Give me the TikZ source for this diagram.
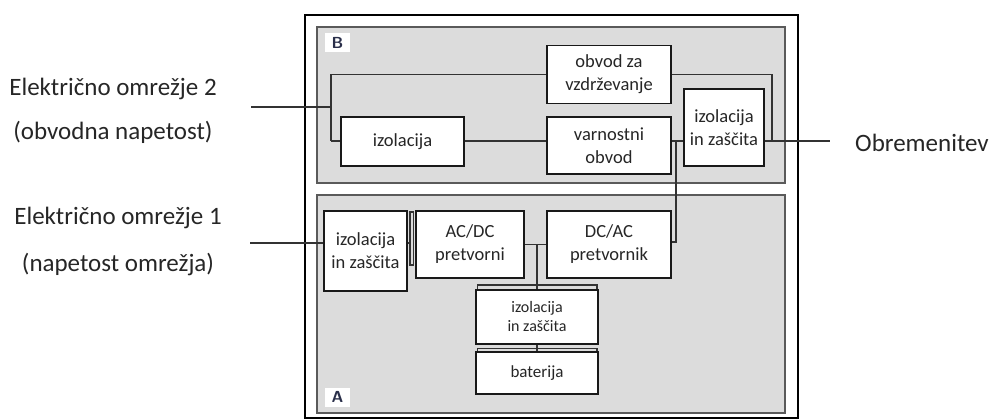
\documentclass[tikz,border=0pt]{standalone}
\usepackage{fontspec}
\setmainfont{Carlito}
\usetikzlibrary{calc}
\definecolor{panelfill}{HTML}{DCDCDC}
\definecolor{panelline}{HTML}{5A5A5A}
\definecolor{wire}{HTML}{333333}
\definecolor{lettercol}{HTML}{2A2F4A}
\tikzset{
  panel/.style={fill=panelfill, draw=panelline, line width=2pt},
  blk/.style={draw=black!90, fill=white, line width=1.8pt, align=center, inner sep=0pt,
              font=\fontsize{18.5}{23}\selectfont, text=black!85},
  smallblk/.style={blk, font=\fontsize{16}{19}\selectfont},
  wirel/.style={draw=wire, line width=1.9pt},
  lbl/.style={font=\fontsize{25}{28}\selectfont, inner sep=0pt, text=black!85},
  tag/.style={fill=white, minimum width=25pt, minimum height=19pt, inner sep=0pt,
              font=\sffamily\bfseries\fontsize{16}{16}\selectfont, text=lettercol}
}
\begin{document}
\begin{tikzpicture}[x=1pt,y=-1pt]
\useasboundingbox (0,0) rectangle (992,419);
% outer frame
\draw[line width=2.5pt, black] (305,15) rectangle (798,418);
% panels
\draw[panel] (317,27) rectangle (785,183);
\draw[panel] (317,195) rectangle (785,413);
\node[tag] (tagB) at (337.5,42.5) {B};
\node[tag] (tagA) at (337.5,397) {A};

% panel B blocks
\node[blk, minimum width=124pt, minimum height=58pt] (ovz) at (609,74.5) {obvod za\\vzdrževanje};
\node[blk, minimum width=123pt, minimum height=49pt] (izB) at (402.5,141.5) {izolacija};
\node[blk, minimum width=124pt, minimum height=57pt] (varn) at (609,145.5) {varnostni\\obvod};
\node[blk, minimum width=80pt, minimum height=77pt] (izzB) at (724,127.5) {izolacija\\in zaščita};

% panel A blocks
\node[blk, minimum width=83pt, minimum height=80pt] (izzA) at (365.5,251) {izolacija\\in zaščita};
\node[blk, minimum width=108pt, minimum height=67pt] (acdc) at (470,244.5) {AC/DC\\pretvorni};
\node[blk, minimum width=124pt, minimum height=67pt] (dcac) at (609,244.5) {DC/AC\\pretvornik};
\node[smallblk, minimum width=122pt, minimum height=54pt] (izzL) at (537,317) {izolacija\\in zaščita};
\node[blk, font=\fontsize{17}{20}\selectfont, minimum width=122pt, minimum height=42pt] (bat) at (537,373) {baterija};

% outside labels
\node[lbl] (g2a) at (113,89) {Električno omrežje 2};
\node[lbl] (g2b) at (113,132) {(obvodna napetost)};
\node[lbl] (g1a) at (118,218) {Električno omrežje 1};
\node[lbl] (g1b) at (118,264) {(napetost omrežja)};
\node[lbl, anchor=west] (load) at (855,143) {Obremenitev};

% coordinates
\coordinate (in2) at (251,107);
\coordinate (j1) at (331,107);
\coordinate (jt) at (331,74.5);
\coordinate (jb) at (331,141);
\coordinate (rt) at (772,74.5);
\coordinate (out) at (830,141);
\coordinate (vr) at (676,141);
\coordinate (vd) at (676,242);
\coordinate (in1) at (250,243);
\coordinate (bus) at (537,244.5);

% panel B wiring
\draw[wirel] (in2) -- (j1);
\draw[wirel] (jt) -- (jb);
\draw[wirel] (jt) -- (ovz.west);
\draw[wirel] (ovz.east) -- (rt) -- (rt |- out);
\draw[wirel] (izzB.east |- out) -- (out);
\draw[wirel] (jb) -- (jb -| izB.west);
\draw[wirel] (izB.east |- jb) -- (jb -| varn.west);
\draw[wirel] (varn.east |- jb) -- (jb -| izzB.west);
\draw[wirel] (vr) -- (vd) -- (vd -| dcac.east);

% panel A wiring
\draw[wirel] (in1) -- (in1 -| izzA.west);
\draw[wirel] (izzA.east |- in1) -- (410,243);
\draw[draw=wire, line width=1.2pt, fill=panelfill] (410,212) rectangle (413.5,265);
\draw[wirel] (acdc.east) -- (dcac.west);
\draw[wirel] (bus) -- (izzL.north);
\draw[wirel] (izzL.south) -- (bat.north);
% stacked top edges
\draw[draw=wire, line width=1.2pt] ($(izzL.north west)+(2,0)$) -- ++(0,-4) -| ($(izzL.north east)+(-2,0)$);
\draw[draw=wire, line width=1.2pt] ($(bat.north west)+(2,0)$) -- ++(0,-3) -| ($(bat.north east)+(-2,0)$);
\end{tikzpicture}
\end{document}
